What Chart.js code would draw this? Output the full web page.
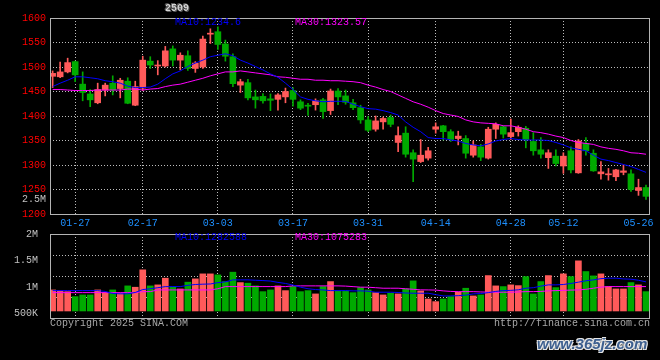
<!DOCTYPE html>
<html>
<head>
<meta charset="utf-8">
<script src="https://cdn.jsdelivr.net/npm/chart.js@4.4.1/dist/chart.umd.min.js"></script>
<style>
body { margin: 0; background: #000; }
#wrap { position: relative; width: 660px; height: 360px; background: #000; overflow: hidden;
        font-family: "Liberation Mono", "DejaVu Sans Mono", monospace; font-size: 10px; }
canvas { position: absolute; left: 0; top: 0; }
.t { position: absolute; white-space: nowrap; line-height: 12px; }
</style>
</head>
<body>
<div id="wrap">
  <canvas id="price" width="660" height="360"></canvas>
  <canvas id="vol" width="660" height="360"></canvas>
  <div class="t" style="left:165px;top:3px;color:#d4d4d4;font-weight:bold;text-shadow:1px 1px 0 #555,-1px -1px 0 #555;">2509</div>
  <div class="t" style="left:175px;top:17px;color:#0000ff;">MA10:1234.6</div>
  <div class="t" style="left:295px;top:17px;color:#ff00ff;">MA30:1323.57</div>
  <div class="t" style="right:614px;top:194px;color:#c0c0c0;">2.5M</div>
  <div class="t" style="left:175px;top:232px;color:#0000ff;">MA10:1282588</div>
  <div class="t" style="left:295px;top:232px;color:#ff00ff;">MA30:1075283</div>
  <div class="t" style="left:50px;top:318px;color:#a8a8a8;">Copyright 2025 SINA.COM</div>
  <div class="t" style="right:10px;top:318px;color:#a8a8a8;">http://finance.sina.com.cn</div>
  <div class="t" style="left:537px;top:335px;line-height:18px;font:italic bold 15px 'Liberation Sans', sans-serif;color:#3d5f8f;text-shadow:1px 1px 0 #e8e8e8,-1px -1px 0 #e8e8e8,1px -1px 0 #e8e8e8,-1px 1px 0 #e8e8e8;">www.365jz.com</div>
</div>
<script>
// trading days shown on the chart
const dates = ['01-22','01-23','01-24','01-27','02-05','02-06','02-07','02-10','02-11','02-12',
  '02-13','02-14','02-17','02-18','02-19','02-20','02-21','02-24','02-25','02-26',
  '02-27','02-28','03-03','03-04','03-05','03-06','03-07','03-10','03-11','03-12',
  '03-13','03-14','03-17','03-18','03-19','03-20','03-21','03-24','03-25','03-26',
  '03-27','03-28','03-31','04-01','04-02','04-03','04-07','04-08','04-09','04-10',
  '04-11','04-14','04-15','04-16','04-17','04-18','04-21','04-22','04-23','04-24',
  '04-25','04-28','04-29','04-30','05-06','05-07','05-08','05-09','05-12','05-13',
  '05-14','05-15','05-16','05-19','05-20','05-21','05-22','05-23','05-26','05-27'];
const tickDates = ['01-27','02-17','03-03','03-17','03-31','04-14','04-28','05-12','05-26'];

const open = [1481,1480,1490,1511,1465,1445,1427,1453,1467,1456, 1471,1422,1457,1512,1502,1502,1537,1514,1523,1497,
  1500,1567,1572,1547,1521,1463,1468,1439,1440,1435, 1434,1439,1452,1429,1422,1423,1433,1411,1451,1441,
  1427,1417,1392,1373,1388,1397,1346,1365,1325,1307, 1314,1373,1380,1368,1354,1354,1320,1337,1314,1373,
  1378,1358,1368,1375,1348,1331,1315,1318,1298,1329, 1284,1344,1324,1282,1280,1276,1285,1282,1248,1254];
const high = [1492,1510,1518,1512,1490,1454,1467,1467,1482,1477, 1478,1471,1522,1521,1513,1542,1543,1529,1533,1511,
  1563,1578,1582,1555,1527,1475,1475,1453,1446,1445, 1446,1457,1458,1433,1426,1435,1436,1455,1456,1453,
  1434,1422,1399,1400,1398,1402,1378,1378,1331,1352, 1336,1386,1381,1372,1369,1360,1349,1342,1377,1386,
  1380,1394,1380,1379,1366,1356,1331,1331,1325,1337, 1352,1356,1331,1307,1293,1291,1300,1290,1271,1259];
const low = [1458,1478,1488,1470,1431,1419,1425,1441,1443,1437, 1425,1421,1452,1497,1484,1500,1502,1494,1493,1489,
  1497,1548,1536,1512,1460,1448,1433,1416,1426,1411, 1412,1427,1420,1413,1401,1412,1395,1403,1423,1424,
  1413,1385,1368,1369,1373,1378,1327,1316,1266,1305, 1310,1365,1351,1348,1341,1314,1316,1309,1312,1354,
  1355,1352,1359,1335,1320,1314,1293,1298,1283,1284, 1283,1320,1287,1271,1269,1268,1280,1246,1238,1230];
const close = [1487,1490,1509,1484,1448,1433,1454,1463,1453,1473, 1426,1460,1514,1504,1504,1533,1514,1524,1497,1508,
  1557,1569,1546,1522,1466,1470,1437,1433,1431,1432, 1443,1450,1434,1416,1420,1431,1409,1451,1439,1428,
  1417,1392,1371,1390,1395,1383,1360,1322,1312,1320, 1329,1378,1368,1352,1359,1324,1341,1316,1373,1383,
  1363,1366,1377,1352,1329,1322,1325,1303,1318,1290, 1349,1329,1288,1286,1282,1290,1288,1250,1254,1236];

const ma10 = [1460,1467,1473,1480,1480,1478,1476,1472,1470,1467, 1461,1458,1458,1459,1465,1476,1486,1492,1501,1508,
  1514,1521,1524,1527,1523,1514,1508,1501,1494,1486, 1479,1467,1454,1439,1434,1431,1429,1430,1430,1430,
  1424,1419,1415,1414,1411,1407,1402,1388,1377,1368, 1356,1354,1354,1351,1349,1344,1341,1339,1343,1349,
  1352,1354,1352,1351,1351,1351,1350,1346,1341,1335, 1332,1329,1320,1312,1309,1305,1301,1297,1291,1285];
const ma30 = [1454,1454,1453,1452,1452,1452,1453,1453,1453,1453, 1455,1455,1453,1455,1456,1460,1463,1465,1469,1473,
  1477,1482,1486,1490,1490,1492,1490,1488,1486,1484, 1480,1479,1477,1475,1475,1473,1473,1472,1472,1471,
  1470,1468,1463,1459,1454,1450,1443,1436,1429,1424, 1418,1411,1405,1402,1399,1392,1388,1386,1385,1384,
  1380,1380,1377,1373,1368,1366,1363,1359,1356,1350, 1346,1344,1342,1337,1334,1332,1329,1325,1324,1322];

// volume, shares
const volume = [948000,929000,916000,822000,854000,854000,948000,897000,948000,886000,
  1024000,999000,1326000,1024000,1043000,1169000,999000,967000,1094000,1156000,
  1250000,1250000,1231000,1105000,1282000,1086000,1075000,1024000,916000,948000,
  1024000,935000,1011000,916000,935000,873000,1011000,1105000,929000,929000,
  897000,992000,948000,897000,854000,886000,873000,967000,1118000,929000,
  778000,728000,778000,822000,905000,980000,835000,854000,1218000,1024000,
  1011000,1043000,1029000,1199000,873000,1105000,1218000,992000,1250000,1199000,
  1495000,1294000,1212000,1250000,1011000,967000,967000,1086000,1043000,916000];
const volMa10 = [935000,935000,935000,935000,935000,935000,935000,920000,880000,875000,
  875000,900000,955000,970000,990000,1010000,1011000,1011000,1035000,1050000,
  1056000,1060000,1085000,1100000,1137000,1137000,1137000,1130000,1124000,1115000,
  1090000,1070000,1040000,1000000,970000,955000,948000,935000,935000,935000,
  930000,930000,925000,905000,905000,905000,900000,890000,886000,886000,
  886000,860000,835000,835000,840000,850000,873000,880000,897000,920000,
  935000,940000,950000,980000,990000,1020000,1043000,1043000,1050000,1070000,
  1094000,1120000,1137000,1160000,1169000,1169000,1155000,1150000,1130000,1100000];
const volMa30 = [897000,897000,897000,897000,897000,897000,897000,897000,897000,897000,
  897000,897000,916000,916000,948000,948000,948000,948000,948000,948000,
  948000,948000,970000,1011000,1011000,1011000,1011000,1011000,1011000,1011000,
  1011000,1011000,1024000,1024000,1024000,1024000,1024000,1024000,1024000,1020000,
  1010000,1000000,999000,990000,980000,980000,980000,970000,960000,950000,
  948000,945000,930000,920000,916000,916000,916000,910000,905000,905000,
  905000,905000,910000,916000,916000,920000,930000,935000,940000,945000,
  948000,960000,980000,1000000,1011000,1011000,1011000,1011000,1011000,1011000];
const volTicks = [500000, 1000000, 1500000, 2000000];

const UP = '#ff5a5a';
const DOWN = '#00aa00';
const GRID = '#bdbdbd';
const FONT = { family: 'Liberation Mono', size: 10 };

const candleColors = close.map((c, i) => c >= open[i] ? UP : DOWN);
const last = dates.length - 1;

const frame = {
    id: 'frame',
    afterDraw(chart) {
        const a = chart.chartArea;
        const ctx = chart.ctx;
        ctx.save();
        ctx.strokeStyle = '#b4b4b4';
        ctx.lineWidth = 1;
        ctx.strokeRect(a.left + 0.5, a.top + 0.5, a.right - a.left, a.bottom - a.top);
        ctx.restore();
    }
};

function xScale(showLabels, height) {
    return {
        type: 'linear',
        offset: false,
        min: -0.35,
        max: 79.4,
        afterBuildTicks: s => { s.ticks = tickDates.map(d => ({ value: dates.indexOf(d) })); },
        afterFit: s => { s.height = height; },
        ticks: {
            display: showLabels, color: '#1e90ff', font: FONT, padding: 3,
            maxRotation: 0, autoSkip: false,
            callback: v => dates[v]
        },
        grid: {
            offset: false,
            color: ctx => (ctx.tick && ctx.tick.value === last - 1) ? 'rgba(0,0,0,0)' : GRID,
            drawTicks: false
        },
        border: { display: false, dash: [1, 2] }
    };
}

function line(data, color) {
    return {
        type: 'line',
        data: data.map((v, i) => ({ x: i, y: v })),
        borderColor: color,
        borderWidth: 1,
        pointRadius: 0,
        tension: 0,
        fill: false
    };
}

new Chart(document.getElementById('price'), {
    type: 'bar',
    data: {
        datasets: [
            line(ma10, '#0000ff'),
            line(ma30, '#ff00ff'),
            {
                data: open.map((o, i) => ({ x: i, y: [o, close[i]] })),
                backgroundColor: candleColors,
                barThickness: 6,
                grouped: false,
                minBarLength: 1
            },
            {
                data: low.map((l, i) => ({ x: i, y: [l, high[i]] })),
                backgroundColor: candleColors,
                barThickness: 1,
                grouped: false
            }
        ]
    },
    options: {
        responsive: false,
        animation: false,
        events: [],
        layout: { padding: { top: 18, right: 11, bottom: 128, left: 0 } },
        plugins: { legend: { display: false }, tooltip: { enabled: false } },
        scales: {
            x: xScale(true, 18),
            y: {
                min: 1200, max: 1600,
                afterFit: s => { s.width = 50; },
                ticks: { stepSize: 50, color: '#ff0000', font: FONT, padding: 4, callback: v => String(v) },
                grid: { color: GRID, drawTicks: false },
                border: { display: false, dash: [1, 2] }
            }
        }
    },
    plugins: [frame]
});

new Chart(document.getElementById('vol'), {
    type: 'bar',
    data: {
        datasets: [
            line(volMa10, '#0000ff'),
            line(volMa30, '#ff00ff'),
            {
                data: volume.map((v, i) => ({ x: i, y: v })),
                backgroundColor: candleColors,
                barThickness: 6,
                base: 552000,
                grouped: false,
                yAxisID: 'y'
            }
        ]
    },
    options: {
        responsive: false,
        animation: false,
        events: [],
        layout: { padding: { top: 234, right: 11, bottom: 42, left: 0 } },
        plugins: { legend: { display: false }, tooltip: { enabled: false } },
        scales: {
            x: xScale(false, 0),
            y: {
                position: 'left',
                min: 420000, max: 2000000,
                afterBuildTicks: s => { s.ticks = volTicks.map(v => ({ value: v })); },
                afterFit: s => { s.width = 50; },
                ticks: {
                    color: '#c0c0c0', font: FONT, padding: 4,
                    callback: v => v >= 1000000 ? (v / 1000000) + 'M' : (v / 1000) + 'K'
                },
                grid: { display: false },
                border: { display: false }
            },
            yg: {
                position: 'right',
                min: 0, max: 4,
                afterFit: s => { s.width = 0; },
                ticks: { display: false, stepSize: 1 },
                grid: { color: GRID, drawTicks: false },
                border: { display: false, dash: [1, 2] }
            }
        }
    },
    plugins: [frame]
});
</script>
</body>
</html>
